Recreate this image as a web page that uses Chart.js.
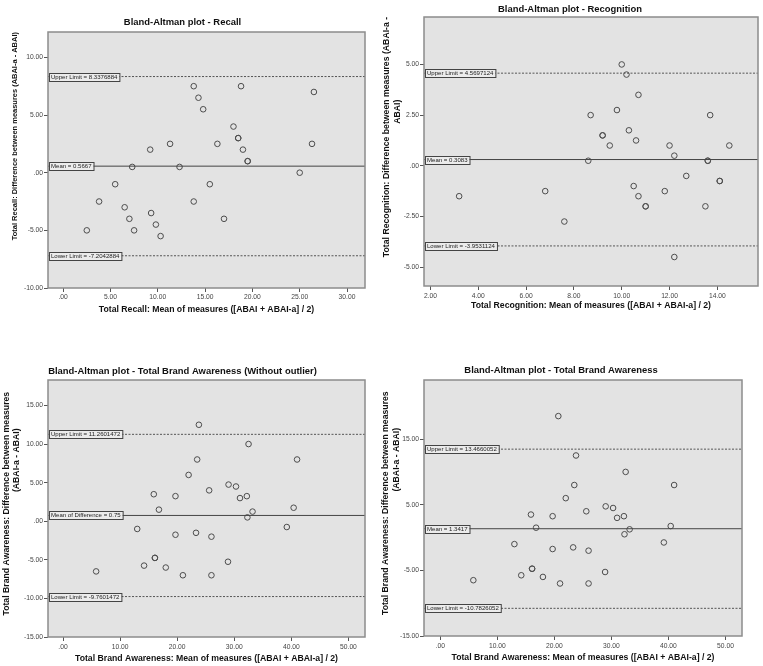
<!DOCTYPE html>
<html>
<head>
<meta charset="utf-8">
<title>Bland-Altman plots</title>
<script src="https://cdn.jsdelivr.net/npm/chart.js@4.4.1/dist/chart.umd.min.js"></script>
<style>
  body { margin: 0; background: #fff; width: 763px; height: 666px; overflow: hidden; position: relative; }
  canvas { position: absolute; }
</style>
</head>
<body>
<canvas id="recall" width="370" height="330" style="left:0;top:0"></canvas>
<canvas id="recog" width="383" height="330" style="left:380px;top:0"></canvas>
<canvas id="brand" width="370" height="336" style="left:0;top:330px"></canvas>
<canvas id="total" width="383" height="336" style="left:380px;top:330px"></canvas>
<script>
// Recall
const recallX = [13.8, 18.8, 26.5, 14.3, 14.8, 18.0, 18.5, 18.5, 9.2, 11.3, 16.3, 19.0, 26.3, 19.5, 19.5, 7.3, 12.3, 25.0, 5.5, 15.5, 3.8, 13.8, 6.5, 9.3, 7.0, 9.8, 17.0, 2.5, 7.5, 10.3];
const recallY = [7.5, 7.5, 7.0, 6.5, 5.5, 4.0, 3.0, 3.0, 2.0, 2.5, 2.5, 2.0, 2.5, 1.0, 1.0, 0.5, 0.5, 0.0, -1.0, -1.0, -2.5, -2.5, -3.0, -3.5, -4.0, -4.5, -4.0, -5.0, -5.0, -5.5];
const recallLimits = [8.3376884, 0.5667, -7.2042884];
const recallLabels = ['Upper Limit = 8.3376884', 'Mean = 0.5667', 'Lower Limit = -7.2042884'];
const recallXTicks = [0, 5, 10, 15, 20, 25, 30];
const recallYTicks = [-10, -5, 0, 5, 10];

// Recognition
const recogX = [10.0, 10.2, 10.7, 9.8, 8.7, 13.7, 9.2, 9.2, 10.3, 9.5, 10.6, 12.0, 14.5, 12.2, 8.6, 13.6, 13.6, 3.2, 6.8, 7.6, 10.5, 10.7, 11.0, 11.0, 11.8, 12.7, 13.5, 14.1, 14.1, 12.2];
const recogY = [5.0, 4.5, 3.5, 2.75, 2.5, 2.5, 1.5, 1.5, 1.75, 1.0, 1.25, 1.0, 1.0, 0.5, 0.25, 0.25, 0.25, -1.5, -1.25, -2.75, -1.0, -1.5, -2.0, -2.0, -1.25, -0.5, -2.0, -0.75, -0.75, -4.5];
const recogLimits = [4.5697124, 0.3083, -3.9531124];
const recogLabels = ['Upper Limit = 4.5697124', 'Mean = 0.3083', 'Lower Limit = -3.9531124'];
const recogXTicks = [2, 4, 6, 8, 10, 12, 14];
const recogYTicks = [-5, -2.5, 0, 2.5, 5];

// Total Brand Awareness (without outlier)
const brandX = [23.8, 32.5, 23.5, 41.0, 22.0, 29.0, 30.3, 25.6, 15.9, 19.7, 31.0, 32.2, 16.8, 40.4, 33.2, 32.3, 13.0, 19.7, 23.3, 26.0, 39.2, 16.1, 16.1, 14.2, 18.0, 21.0, 26.0, 28.9, 5.8];
const brandY = [12.5, 10.0, 8.0, 8.0, 6.0, 4.75, 4.5, 4.0, 3.5, 3.25, 3.0, 3.25, 1.5, 1.75, 1.25, 0.5, -1.0, -1.75, -1.5, -2.0, -0.75, -4.75, -4.75, -5.75, -6.0, -7.0, -7.0, -5.25, -6.5];
const brandLimits = [11.2601472, 0.75, -9.7601472];
const brandLabels = ['Upper Limit = 11.2601472', 'Mean of Difference = 0.75', 'Lower Limit = -9.7601472'];
const brandXTicks = [0, 10, 20, 30, 40, 50];
const brandYTicks = [-15, -10, -5, 0, 5, 10, 15];

// Total Brand Awareness
const totalX = [20.7, 23.8, 32.5, 23.5, 41.0, 22.0, 29.0, 30.3, 25.6, 15.9, 19.7, 31.0, 32.2, 16.8, 40.4, 33.2, 32.3, 13.0, 19.7, 23.3, 26.0, 39.2, 16.1, 16.1, 14.2, 18.0, 21.0, 26.0, 28.9, 5.8];
const totalY = [18.5, 12.5, 10.0, 8.0, 8.0, 6.0, 4.75, 4.5, 4.0, 3.5, 3.25, 3.0, 3.25, 1.5, 1.75, 1.25, 0.5, -1.0, -1.75, -1.5, -2.0, -0.75, -4.75, -4.75, -5.75, -6.0, -7.0, -7.0, -5.25, -6.5];
const totalLimits = [13.4660052, 1.3417, -10.7826052];
const totalLabels = ['Upper Limit = 13.4660052', 'Mean = 1.3417', 'Lower Limit = -10.7826052'];
const totalXTicks = [0, 10, 20, 30, 40, 50];
const totalYTicks = [-15, -5, 5, 15];

// narrow font if we have it, otherwise shrink the regular one
function hasFont(name) {
  const c = document.createElement('canvas').getContext('2d');
  c.font = '20px monospace';
  const a = c.measureText('Bland-Altman plot 0123').width;
  c.font = "20px '" + name + "', monospace";
  return c.measureText('Bland-Altman plot 0123').width !== a;
}
const narrow = hasFont('Liberation Sans Narrow');
const FAM = narrow ? "'Liberation Sans Narrow', 'Liberation Sans', Arial, sans-serif" : "'Liberation Sans', Arial, sans-serif";
const K = narrow ? 1 : 0.82;
const AXIS_SIZE = 10.6 * K;

// SPSS puts the rotated y titles higher than centre: push them up with leading spaces
function lift(text, px, size) {
  const c = document.createElement('canvas').getContext('2d');
  c.font = 'bold ' + (size || AXIS_SIZE) + 'px ' + FAM;
  const n = Math.round(2 * px / c.measureText('\u00a0').width);
  return '\u00a0'.repeat(Math.max(n, 0)) + text;
}

function fmt(v) {
  return Number(v).toFixed(2).replace(/^(-?)0\./, '$1.');
}

const frame = {
  id: 'frame',
  beforeDatasetsDraw(chart) {
    const a = chart.chartArea, ctx = chart.ctx;
    ctx.save();
    ctx.fillStyle = '#e3e3e3';
    ctx.fillRect(a.left, a.top, a.right - a.left, a.bottom - a.top);
    ctx.restore();
  },
  afterDatasetsDraw(chart, args, opts) {
    const a = chart.chartArea, ctx = chart.ctx, y = chart.scales.y;
    ctx.save();
    ctx.font = (7.4 * K) + 'px ' + FAM;
    ctx.textBaseline = 'middle';
    opts.values.forEach(function (v, i) {
      const py = Math.round(y.getPixelForValue(v));
      const txt = opts.labels[i];
      const w = ctx.measureText(txt).width + 4;
      ctx.fillStyle = '#ececec';
      ctx.fillRect(a.left + 1, py - 4, w, 8);
      ctx.strokeStyle = '#444';
      ctx.lineWidth = 1;
      ctx.strokeRect(a.left + 1.5, py - 3.5, w, 8);
      ctx.fillStyle = '#222';
      ctx.fillText(txt, a.left + 3, py + 0.5);
    });
    ctx.strokeStyle = '#8c8c8c';
    ctx.lineWidth = 1.5;
    ctx.strokeRect(a.left, a.top, a.right - a.left, a.bottom - a.top);
    ctx.restore();
  }
};

function panel(id, p) {
  function hline(v, dash, col) {
    return {
      type: 'line',
      data: [{ x: p.xMin, y: v }, { x: p.xMax, y: v }],
      borderColor: col, borderWidth: 1, borderDash: dash,
      pointRadius: 0, fill: false
    };
  }
  new Chart(document.getElementById(id), {
    type: 'scatter',
    data: {
      datasets: [
        hline(p.limits[0], [2, 1.5], '#555'),
        hline(p.limits[1], [], '#444'),
        hline(p.limits[2], [2, 1.5], '#555'),
        {
          data: p.x.map(function (v, i) { return { x: v, y: p.y[i] }; }),
          pointRadius: 2.8,
          pointBackgroundColor: 'rgba(0,0,0,0)',
          pointBorderColor: '#4d4d4d',
          pointBorderWidth: 1
        }
      ]
    },
    options: {
      responsive: false,
      animation: false,
      layout: { padding: { left: 0, right: p.padRight, top: 0, bottom: 0 } },
      plugins: {
        legend: { display: false },
        tooltip: { enabled: false },
        title: {
          display: true, text: p.title, color: '#111',
          font: { family: FAM, size: 11.5 * K, weight: 'bold', lineHeight: '12px' },
          padding: { top: p.titleTop, bottom: p.titleBottom }
        },
        frame: { values: p.limits, labels: p.labels }
      },
      scales: {
        x: {
          type: 'linear', min: p.xMin, max: p.xMax,
          afterBuildTicks: function (s) { s.ticks = p.xTicks.map(function (v) { return { value: v }; }); },
          afterFit: function (s) { s.height = p.xH; },
          ticks: { font: { family: FAM, size: 8.2 * K }, color: '#444', padding: p.xTickPad, maxRotation: 0, autoSkip: false, callback: fmt },
          grid: { drawOnChartArea: false, tickLength: 4, color: '#666', tickColor: '#555' },
          border: { display: false },
          title: {
            display: true, text: p.xTitle, color: '#111',
            font: { family: FAM, size: AXIS_SIZE, weight: 'bold', lineHeight: '12px' },
            padding: { top: 0, bottom: p.xTitleBottom }
          }
        },
        y: {
          type: 'linear', min: p.yMin, max: p.yMax,
          afterBuildTicks: function (s) { s.ticks = p.yTicks.map(function (v) { return { value: v }; }); },
          afterFit: function (s) { s.width = p.yW; },
          ticks: { font: { family: FAM, size: 8.2 * K }, color: '#444', padding: 1, autoSkip: false, callback: fmt },
          grid: { drawOnChartArea: false, tickLength: 4, color: '#666', tickColor: '#555' },
          border: { display: false },
          title: {
            display: true, text: p.yTitle, color: '#111',
            font: { family: FAM, size: p.yTitleSize || AXIS_SIZE, weight: 'bold', lineHeight: p.yTitleLh },
            padding: { top: p.yTitleTop, bottom: 0 }
          }
        }
      }
    },
    plugins: [frame]
  });
}

const recallYSize = AXIS_SIZE * 0.86;
panel('recall', {
  title: 'Bland-Altman plot - Recall',
  x: recallX, y: recallY, limits: recallLimits, labels: recallLabels,
  xTicks: recallXTicks, yTicks: recallYTicks,
  xMin: -1.6, xMax: 31.9, yMin: -10, yMax: 12.2,
  xTitle: 'Total Recall: Mean of measures ([ABAI + ABAI-a] / 2)',
  yTitle: lift('Total Recall: Difference between measures (ABAI-a - ABAI)', 24, recallYSize),
  padRight: 5, titleTop: 16, titleBottom: 4,
  xH: 42, xTickPad: 1, xTitleBottom: 14,
  yW: 48, yTitleTop: 9, yTitleLh: '11px', yTitleSize: recallYSize
});

panel('recog', {
  title: 'Bland-Altman plot - Recognition',
  x: recogX, y: recogY, limits: recogLimits, labels: recogLabels,
  xTicks: recogXTicks, yTicks: recogYTicks,
  xMin: 1.73, xMax: 15.7, yMin: -5.93, yMax: 7.34,
  xTitle: 'Total Recognition: Mean of measures ([ABAI + ABAI-a] / 2)',
  yTitle: [lift('Total Recognition: Difference between measures (ABAI-a -', 14), lift('ABAI)', 40)],
  padRight: 3, titleTop: 3, titleBottom: 2,
  xH: 44, xTickPad: 2, xTitleBottom: 18,
  yW: 44, yTitleTop: 1, yTitleLh: '11px'
});

panel('brand', {
  title: 'Bland-Altman plot - Total Brand Awareness (Without outlier)',
  x: brandX, y: brandY, limits: brandLimits, labels: brandLabels,
  xTicks: brandXTicks, yTicks: brandYTicks,
  xMin: -2.63, xMax: 52.9, yMin: -15, yMax: 18.3,
  xTitle: 'Total Brand Awareness: Mean of measures ([ABAI + ABAI-a] / 2)',
  yTitle: [lift('Total Brand Awareness: Difference between measures', 5), lift('(ABAI-a - ABAI)', 48)],
  padRight: 5, titleTop: 35, titleBottom: 3,
  xH: 29, xTickPad: 2, xTitleBottom: 1,
  yW: 48, yTitleTop: 2, yTitleLh: '10px'
});

panel('total', {
  title: 'Bland-Altman plot - Total Brand Awareness',
  x: totalX, y: totalY, limits: totalLimits, labels: totalLabels,
  xTicks: totalXTicks, yTicks: totalYTicks,
  xMin: -2.85, xMax: 52.9, yMin: -15, yMax: 24,
  xTitle: 'Total Brand Awareness: Mean of measures ([ABAI + ABAI-a] / 2)',
  yTitle: [lift('Total Brand Awareness: Difference between measures', 5), lift('(ABAI-a - ABAI)', 48)],
  padRight: 21, titleTop: 34, titleBottom: 4,
  xH: 30, xTickPad: 2, xTitleBottom: 2,
  yW: 44, yTitleTop: 0, yTitleLh: '11px'
});
</script>
</body>
</html>
